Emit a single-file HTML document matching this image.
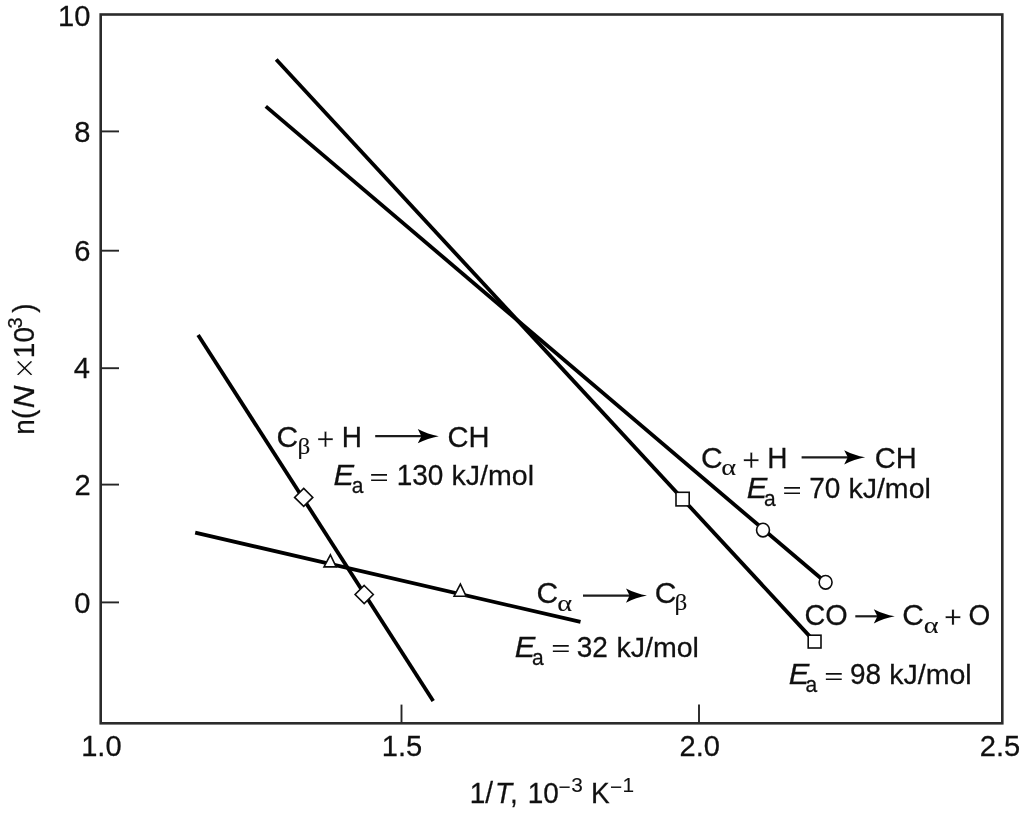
<!DOCTYPE html>
<html lang="en">
<head>
<meta charset="utf-8">
<title>Arrhenius plot</title>
<style>
  html, body { margin: 0; padding: 0; background: #ffffff; }
  body { width: 1024px; height: 813px; overflow: hidden; }
  svg { display: block; }
  text { font-family: "Liberation Sans", sans-serif; font-size: 28px; fill: #101010; stroke: #101010; stroke-width: 0.25px; }
  .it { font-style: italic; }
  .gr { font-family: "Liberation Serif", serif; }
  .ln { stroke: #000000; stroke-width: 3.8; fill: none; stroke-linecap: butt; }
  .mk { stroke: #0c0c0c; stroke-width: 1.6; fill: #ffffff; stroke-linejoin: miter; }
  .ax { stroke: #2b2b2b; stroke-width: 2.6; fill: none; }
  .tk { stroke: #262626; stroke-width: 1.9; fill: none; }
  .ar { stroke: #1c1c1c; stroke-width: 2.2; fill: none; }
  .ah { fill: #000000; stroke: none; }
</style>
</head>
<body>
<svg width="1024" height="813" viewBox="0 0 1024 813">
  <rect x="0" y="0" width="1024" height="813" fill="#ffffff"/>

  <!-- plot frame -->
  <rect class="ax" x="100.7" y="14.5" width="901.6" height="708.8"/>

  <!-- axis ticks -->
  <g class="tk">
    <line x1="101" y1="131.4" x2="119" y2="131.4"/>
    <line x1="101" y1="250.7" x2="119" y2="250.7"/>
    <line x1="101" y1="368.2" x2="119" y2="368.2"/>
    <line x1="101" y1="484.6" x2="119" y2="484.6"/>
    <line x1="101" y1="602.4" x2="119" y2="602.4"/>
    <line x1="401.5" y1="704.6" x2="401.5" y2="723"/>
    <line x1="699" y1="704.6" x2="699" y2="723"/>
  </g>

  <!-- data lines -->
  <line class="ln" x1="276.2" y1="59.5" x2="814.6" y2="641.6"/>
  <line class="ln" x1="265.8" y1="106.4" x2="825.6" y2="582.2"/>
  <line class="ln" x1="198.1" y1="335" x2="433.2" y2="701"/>
  <line class="ln" x1="195.2" y1="532.7" x2="580.5" y2="621.9"/>

  <!-- markers -->
  <rect class="mk" x="676" y="492.3" width="13.2" height="13.6"/>
  <rect class="mk" x="808.2" y="635.2" width="12.8" height="12.8"/>
  <ellipse class="mk" cx="763" cy="530.1" rx="6.45" ry="6.8"/>
  <ellipse class="mk" cx="825.6" cy="582.3" rx="6.45" ry="6.8"/>
  <polygon class="mk" points="303.7,488.4 312.8,497.4 303.7,506.4 294.6,497.4"/>
  <polygon class="mk" points="364.2,585.5 373.3,594.5 364.2,603.5 355.1,594.5"/>
  <polygon class="mk" points="330.4,554.8 336.2,566.9 324.0,566.9"/>
  <polygon class="mk" points="460.4,584.1 466.1,596.2 454.1,596.2"/>

  <!-- text -->
  <text transform="translate(276.38 446.80) scale(1.07 1.085)">C</text>
  <text class="gr" style="font-size:22.5px;stroke-width:0.1px" transform="translate(297.38 453.80) scale(1.12 1)">β</text>
  <text style="stroke:#ffffff;stroke-width:0.25px" transform="translate(316.50 449.70) scale(1.1 1.1)">+</text>
  <text transform="translate(341.70 446.80) scale(1 1.05)">H</text>
  <line class="ar" x1="375.2" y1="436.2" x2="423.8" y2="436.2"/>
  <path class="ah" d="M438.8,436.2 Q427.8,434.3 417.8,429.1 L421.4,436.2 L417.8,443.3 Q427.8,438.1 438.8,436.2 Z"/>
  <text transform="translate(447.52 446.80) scale(1.04 1.065)">CH</text>
  <text class="it" transform="translate(333.45 485.10) scale(1.1 1.05)">E</text>
  <text style="font-size:21px" transform="translate(351.71 493.10) scale(1 1.05)">a</text>
  <text style="stroke-width:0px" transform="translate(369.60 484.50) scale(1.17 0.76)">=</text>
  <text transform="translate(396.67 485.10) scale(1 1.05)">130</text>
  <text transform="translate(451.58 485.10) scale(1.02 1)">kJ/mol</text>
  <text transform="translate(700.98 467.60) scale(1.07 1.085)">C</text>
  <text class="gr" style="font-size:24px;stroke-width:0.1px" transform="translate(721.22 475.30) scale(1.18 0.95)">α</text>
  <text style="stroke:#ffffff;stroke-width:0.25px" transform="translate(742.20 470.50) scale(1.1 1.1)">+</text>
  <text transform="translate(767.30 467.60) scale(1 1.05)">H</text>
  <line class="ar" x1="801.6" y1="457.3" x2="850.2" y2="457.3"/>
  <path class="ah" d="M865.2,457.3 Q854.2,455.4 844.2,450.2 L847.8,457.3 L844.2,464.4 Q854.2,459.2 865.2,457.3 Z"/>
  <text transform="translate(874.72 467.60) scale(1.04 1.065)">CH</text>
  <text class="it" transform="translate(746.85 498.30) scale(1.1 1.05)">E</text>
  <text style="font-size:21px" transform="translate(764.11 506.30) scale(1 1.05)">a</text>
  <text style="stroke-width:0px" transform="translate(782.50 497.70) scale(1.17 0.76)">=</text>
  <text transform="translate(809.16 498.30) scale(1 1.05)">70</text>
  <text transform="translate(848.38 498.30) scale(1.02 1)">kJ/mol</text>
  <text transform="translate(536.48 602.80) scale(1.07 1.085)">C</text>
  <text class="gr" style="font-size:24px;stroke-width:0.1px" transform="translate(557.22 610.50) scale(1.18 0.95)">α</text>
  <line class="ar" x1="583.0" y1="595.6" x2="632.0" y2="595.6"/>
  <path class="ah" d="M647.0,595.6 Q636.0,593.7 626.0,588.5 L629.6,595.6 L626.0,602.7 Q636.0,597.5 647.0,595.6 Z"/>
  <text transform="translate(654.68 602.80) scale(1.07 1.085)">C</text>
  <text class="gr" style="font-size:22.5px;stroke-width:0.1px" transform="translate(674.48 609.80) scale(1.12 1)">β</text>
  <text class="it" transform="translate(514.75 657.00) scale(1.1 1.05)">E</text>
  <text style="font-size:21px" transform="translate(532.01 665.00) scale(1 1.05)">a</text>
  <text style="stroke-width:0px" transform="translate(551.20 656.40) scale(1.17 0.76)">=</text>
  <text transform="translate(576.63 657.00) scale(1 1.05)">32</text>
  <text transform="translate(616.48 657.00) scale(1.02 1)">kJ/mol</text>
  <text transform="translate(804.54 625.00) scale(1.03 1.085)">CO</text>
  <line class="ar" x1="855.3" y1="616.3" x2="879.8" y2="616.3"/>
  <path class="ah" d="M894.8,616.3 Q883.8,614.4 873.8,609.2 L877.4,616.3 L873.8,623.4 Q883.8,618.2 894.8,616.3 Z"/>
  <text transform="translate(902.28 625.00) scale(1.07 1.085)">C</text>
  <text class="gr" style="font-size:24px;stroke-width:0.1px" transform="translate(923.72 632.70) scale(1.18 0.95)">α</text>
  <text style="stroke:#ffffff;stroke-width:0.25px" transform="translate(944.10 627.90) scale(1.1 1.1)">+</text>
  <text transform="translate(968.47 625.00) scale(1 1.085)">O</text>
  <text class="it" transform="translate(788.85 684.10) scale(1.1 1.05)">E</text>
  <text style="font-size:21px" transform="translate(805.41 692.10) scale(1 1.05)">a</text>
  <text style="stroke-width:0px" transform="translate(824.20 683.50) scale(1.17 0.76)">=</text>
  <text transform="translate(849.89 684.10) scale(1 1.05)">98</text>
  <text transform="translate(889.18 684.10) scale(1.02 1)">kJ/mol</text>
  <text transform="translate(57.95 25.90) scale(1.04 1.075)">10</text>
  <text transform="translate(74.27 142.10) scale(1.04 1.075)">8</text>
  <text transform="translate(74.28 261.40) scale(1.04 1.075)">6</text>
  <text transform="translate(73.86 377.90) scale(1.04 1.075)">4</text>
  <text transform="translate(74.47 494.70) scale(1.04 1.075)">2</text>
  <text transform="translate(74.14 612.80) scale(1.04 1.075)">0</text>
  <text transform="translate(81.18 755.60) scale(1.04 1.075)">1.0</text>
  <text transform="translate(381.78 755.60) scale(1.04 1.075)">1.5</text>
  <text transform="translate(679.44 755.60) scale(1.04 1.075)">2.0</text>
  <text transform="translate(979.74 755.60) scale(1.04 1.075)">2.5</text>
  <text transform="translate(469.67 803.40) scale(1 1.045)">1/<tspan class="it" dx="2.06">T</tspan><tspan dx="-2.2">,</tspan></text>
  <text transform="translate(527.77 803.40) scale(1 1.045)">10</text>
  <text style="font-size:20px;stroke-width:0.1px" transform="translate(558.44 792.00) scale(1.04 1.04)"><tspan dy="1.8">−</tspan><tspan dy="-1.8" dx="0.6">3</tspan></text>
  <text transform="translate(591.00 803.40) scale(1 1.045)">K</text>
  <text style="font-size:20px;stroke-width:0.1px" transform="translate(610.04 792.00) scale(1.04 1.04)"><tspan dy="1.8">−</tspan><tspan dy="-1.8" dx="0.3">1</tspan></text>
  <text transform="translate(33.60 434.86) rotate(-90) scale(1 1.045)">n</text>
  <text transform="translate(33.60 418.94) rotate(-90) scale(1 1.045)">(</text>
  <text class="it" transform="translate(33.60 408.26) rotate(-90) scale(1.12 1.045)">N</text>
  <text style="stroke:#ffffff;stroke-width:0.8px" transform="translate(36.5 378.8) rotate(-90) scale(1.3 1.3)">×</text>
  <text transform="translate(33.60 358.13) rotate(-90) scale(1 1.045)">10</text>
  <text style="font-size:20px" transform="translate(22.30 328.46) rotate(-90) scale(1 1.05)">3</text>
  <text transform="translate(33.60 312.76) rotate(-90) scale(1 1.045)">)</text>
</svg>
</body>
</html>
